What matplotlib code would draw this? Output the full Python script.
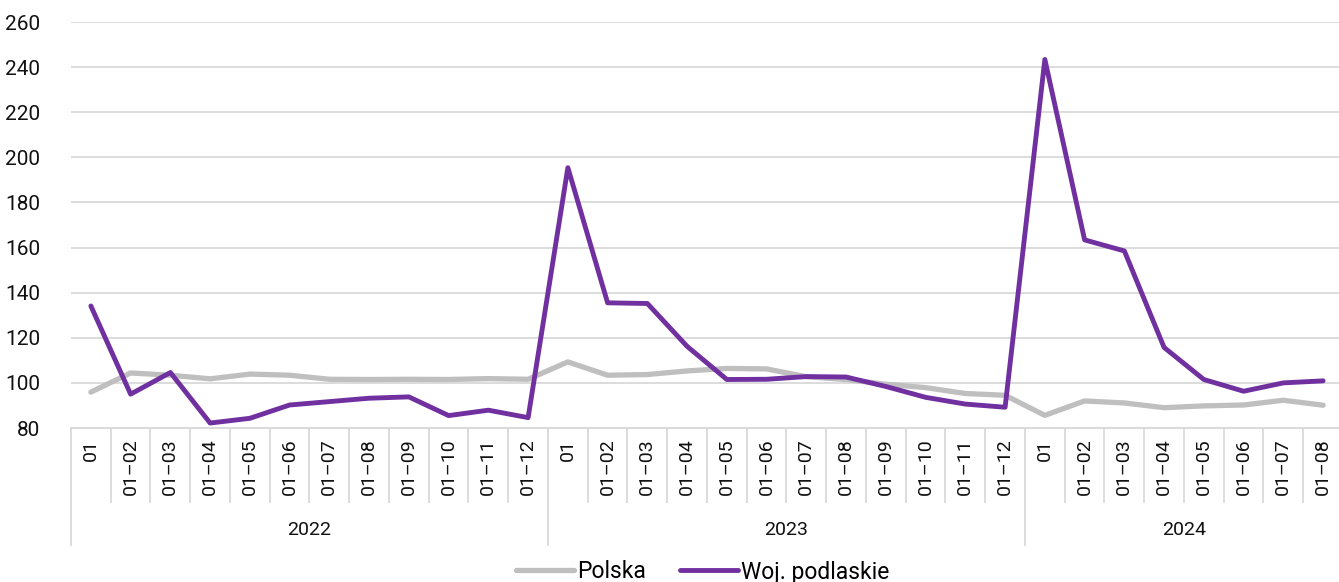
import numpy as np
import matplotlib.pyplot as plt
from matplotlib.transforms import blended_transform_factory

plt.rcParams['font.family'] = ['Roboto', 'DejaVu Sans']

# data
years = ['2022', '2023', '2024']
months_per_year = [12, 12, 8]
month_labels = ['01'] + [f'01\u2013{m:02d}' for m in range(2, 13)]
polska = [95.9, 104.4, 103.4, 101.8, 103.9, 103.4, 101.6, 101.5, 101.6, 101.5, 101.9, 101.6,
          109.3, 103.4, 103.7, 105.3, 106.4, 106.2, 102.7, 101.5, 99.4, 97.9, 95.3, 94.5,
          85.6, 92.0, 91.1, 89.0, 89.8, 90.2, 92.3, 90.1]
podlaskie = [134.1, 95.0, 104.6, 82.2, 84.3, 90.2, 91.7, 93.2, 93.8, 85.5, 87.9, 84.6,
             195.4, 135.5, 135.2, 116.2, 101.5, 101.6, 102.8, 102.6, 98.4, 93.6, 90.6, 89.2,
             243.4, 163.4, 158.5, 115.7, 101.5, 96.3, 100.0, 100.9]

labels = []
for n in months_per_year:
    labels += month_labels[:n]
x = np.arange(len(labels))

fig = plt.figure(figsize=(13.39, 5.82), dpi=100)
ax = fig.add_axes([71/1339, 154/582, 1268/1339, 406/582])

ax.plot(x, polska, color='#bfbfbf', lw=3.8, label='Polska', solid_capstyle='round', zorder=3)
ax.plot(x, podlaskie, color='#7030a0', lw=3.5, label='Woj. podlaskie', solid_capstyle='round', zorder=4)

ax.set_ylim(80, 260)
ax.set_yticks(np.arange(80, 261, 20))
ax.set_xlim(-0.5, 31.4)
ax.yaxis.grid(True, color='#d9d9d9', lw=1.3)
ax.set_axisbelow(True)
for s in ['top', 'right', 'left']:
    ax.spines[s].set_visible(False)
ax.spines['bottom'].set_color('#d9d9d9')
ax.spines['bottom'].set_linewidth(1.3)
ax.tick_params(axis='y', length=0, pad=22, labelsize=15, labelcolor='#111111')
ax.set_xticks([])

# category labels and separators below the axis
tr = blended_transform_factory(ax.transData, ax.transAxes)
for i, lab in enumerate(labels):
    ax.text(i, -0.026, lab, rotation=90, ha='center', va='top', fontsize=14,
            color='#111111', transform=tr)
bounds = np.cumsum([0] + months_per_year)
for b in range(len(labels) + 1):
    xb = b - 0.5
    low = -0.288 if b in bounds else -0.182
    ax.plot([xb, xb], [0, low], color='#d9d9d9', lw=1.3, transform=tr, clip_on=False)
for k, yr in enumerate(years):
    mid = (bounds[k] + bounds[k + 1]) / 2 - 0.5
    ax.text(mid, -0.252, yr, ha='center', va='center', fontsize=14,
            color='#111111', transform=tr)

fig.legend(loc='center', bbox_to_anchor=(0.525, 10/582), ncol=2, frameon=False,
           fontsize=16.5, handlelength=2.5, handletextpad=0.15, columnspacing=1.5)

fig.savefig('out.png', dpi=100)
